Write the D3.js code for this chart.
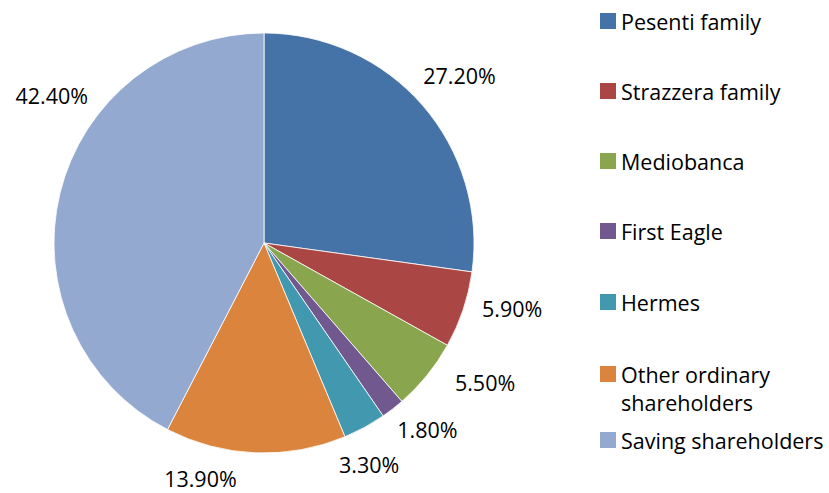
<!DOCTYPE html>
<html>
<head>
<meta charset="utf-8">
<script src="https://cdn.jsdelivr.net/npm/d3@7"></script>
<style>
  html, body { margin: 0; padding: 0; background: #ffffff; }
  svg { display: block; }
  text { font-family: "Open Sans", "Liberation Sans", sans-serif; fill: #000; }
</style>
</head>
<body>
<svg id="chart" width="829" height="493"></svg>
<script>
// ---- data ----
const categories = ["Pesenti family", "Strazzera family", "Mediobanca", "First Eagle", "Hermes", "Other ordinary shareholders", "Saving shareholders"];
const legendLines = [["Pesenti family"], ["Strazzera family"], ["Mediobanca"], ["First Eagle"], ["Hermes"], ["Other ordinary", "shareholders"], ["Saving shareholders"]];
const shares = [27.2, 5.9, 5.5, 1.8, 3.3, 13.9, 42.4];
const labels = ["27.20%", "5.90%", "5.50%", "1.80%", "3.30%", "13.90%", "42.40%"];
const colors = ["#4572A7", "#AA4643", "#89A54E", "#71588F", "#4198AF", "#DB843D", "#93A9CF"];

// ---- layout (label placement as polar offsets, legend rows) ----
const labelAngleShift = [0.6, -3.5, -6.6, -3.2, 3.3, 12.7, 21.0]; // degrees
const labelRadius = [257, 257, 262, 249, 246, 245, 258];
const legendBaselines = [30, 100, 170, 240, 311, 383, 449];

const svg = d3.select("#chart");
const cx = 264, cy = 243, R = 210;

const pie = d3.pie().sort(null).value(d => d)(shares);
const arc = d3.arc().innerRadius(0).outerRadius(R);

const g = svg.append("g").attr("transform", `translate(${cx},${cy})`);

g.selectAll("path.slice")
  .data(pie)
  .join("path")
  .attr("class", "slice")
  .attr("d", arc)
  .attr("fill", (d, i) => colors[i])
  .attr("stroke", "#ffffff")
  .attr("stroke-width", 0.8)
  .attr("stroke-linejoin", "round");

g.selectAll("text.lbl")
  .data(pie)
  .join("text")
  .attr("class", "lbl")
  .attr("text-anchor", "middle")
  .attr("dy", "0.35em")
  .attr("font-size", 21.5)
  .attr("x", (d, i) => {
    const a = (d.startAngle + d.endAngle) / 2 + labelAngleShift[i] * Math.PI / 180;
    return Math.sin(a) * labelRadius[i];
  })
  .attr("y", (d, i) => {
    const a = (d.startAngle + d.endAngle) / 2 + labelAngleShift[i] * Math.PI / 180;
    return -Math.cos(a) * labelRadius[i];
  })
  .text((d, i) => labels[i]);

// ---- legend ----
const leg = svg.append("g");
const items = leg.selectAll("g.item")
  .data(categories)
  .join("g")
  .attr("class", "item")
  .attr("transform", (d, i) => `translate(600,${legendBaselines[i]})`);

items.append("rect")
  .attr("x", 0)
  .attr("y", -17)
  .attr("width", 16)
  .attr("height", 16)
  .attr("fill", (d, i) => colors[i]);

items.append("text")
  .attr("x", 21)
  .attr("y", 0)
  .attr("font-size", 21.5)
  .selectAll("tspan")
  .data((d, i) => legendLines[i])
  .join("tspan")
  .attr("x", 21)
  .attr("dy", (d, j) => j === 0 ? 0 : 28)
  .text(d => d);
</script>
</body>
</html>
